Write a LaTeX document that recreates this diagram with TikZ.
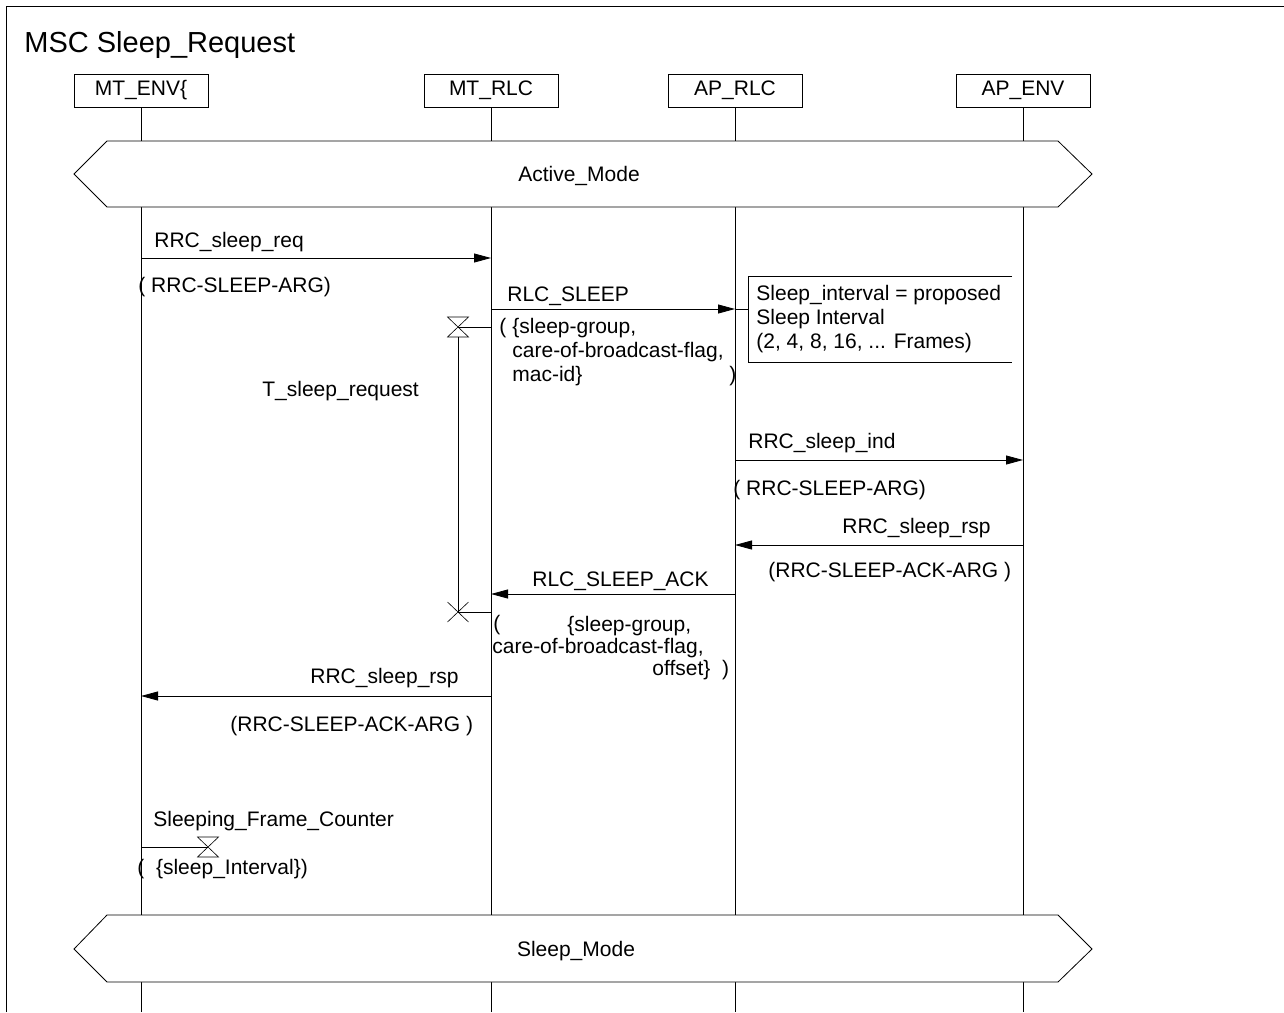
\documentclass[tikz,border=0pt]{standalone}
\usepackage{fontspec}
\setmainfont{Liberation Sans}
\usetikzlibrary{arrows.meta}

\begin{document}
\begin{tikzpicture}[x=1pt, y=-1pt, line width=0.8pt,
  every node/.style={font=\fontsize{21}{24}\selectfont, inner sep=0pt},
  inst/.style={draw, fill=white, minimum width=134pt, minimum height=33pt},
  msg/.style={-{Triangle[length=17pt,width=9pt]}},
  lbl/.style={anchor=base west, align=left},
  sym/.style={line width=0.6pt}]
  \useasboundingbox (0,0) rectangle (1284,1012);

  % frame and title
  \draw (6,1012) -- (6,6) -- (1284,6);
  \node[anchor=base west, font=\fontsize{29}{34}\selectfont] (title) at (24,52) {MSC Sleep\_Request};

  % instances and lifelines
  \node[inst] (mtenv) at (141,90.5) {MT\_ENV\{};
  \node[inst] (mtrlc) at (491,90.5) {MT\_RLC};
  \node[inst] (aprlc) at (735,90.5) {AP\_RLC};
  \node[inst] (apenv) at (1023,90.5) {AP\_ENV};
  \foreach \inst in {mtenv,mtrlc,aprlc,apenv}
    \draw (\inst.south) -- (\inst.south |- 0,1012);

  % condition: active mode
  \draw[fill=white] (74,174) -- (107,141) -- (1058,141) -- (1092,174) -- (1058,207) -- (107,207) -- cycle;
  \node[anchor=base] (active) at (579,181) {Active\_Mode};

  % RRC_sleep_req
  \draw[msg] (mtenv |- 0,258) -- (mtrlc |- 0,258);
  \node[lbl] (req) at (154,247) {RRC\_sleep\_req};
  \node[lbl] (reqarg) at (138,292) {( RRC-SLEEP-ARG)};

  % RLC_SLEEP with comment
  \draw[msg] (mtrlc |- 0,309) -- (aprlc |- 0,309);
  \node[lbl] (sleep) at (507,301) {RLC\_SLEEP};
  \node[lbl] (sleepopen) at (499,333) {(};
  \node[lbl] (sleeppar) at (512,381) {\{sleep-group,\\care-of-broadcast-flag,\\mac-id\}};
  \node[lbl] (sleepclose) at (729,381) {)};
  \coordinate (notein) at (748,309);
  \draw (aprlc |- notein) -- (notein);
  \draw (1012,276) -- (748,276) -- (748,362) -- (1012,362);
  \node[lbl] (note) at (756,348) {Sleep\_interval = proposed\\Sleep Interval\\(2, 4, 8, 16, ... Frames)};

  % timer T_sleep_request
  \coordinate (tset) at (458,327);
  \coordinate (tout) at (458,612);
  \draw (tset) -- (mtrlc |- tset);
  \draw[sym] (tset) ++(-10.5,-10) -- ++(21,0) -- ++(-21,20) -- ++(21,0) -- cycle;
  \draw (tset) ++(0,10) -- (tout);
  \draw (tout) -- (mtrlc |- tout);
  \draw[sym] (tout) ++(-10.5,-10) -- ++(21,20) (tout) ++(10.5,-10) -- ++(-21,20);
  \node[lbl] (tname) at (262,396) {T\_sleep\_request};

  % RRC_sleep_ind
  \draw[msg] (aprlc |- 0,460) -- (apenv |- 0,460);
  \node[lbl] (ind) at (748,448) {RRC\_sleep\_ind};
  \node[lbl] (indarg) at (733,495) {( RRC-SLEEP-ARG)};

  % RRC_sleep_rsp from AP_ENV
  \draw[msg] (apenv |- 0,545) -- (aprlc |- 0,545);
  \node[lbl] (rsp) at (842,533) {RRC\_sleep\_rsp};
  \node[lbl] (rsparg) at (768,577) {(RRC-SLEEP-ACK-ARG )};

  % RLC_SLEEP_ACK
  \draw[msg] (aprlc |- 0,594) -- (mtrlc |- 0,594);
  \node[lbl] (ack) at (532,586) {RLC\_SLEEP\_ACK};
  \node[lbl] (ackopen) at (493,630) {(};
  \node[lbl] (ackpar1) at (567,631) {\{sleep-group,};
  \node[lbl] (ackpar2) at (492,653) {care-of-broadcast-flag,};
  \node[lbl] (ackpar3) at (652,675) {offset\}\ \ )};

  % RRC_sleep_rsp to MT_ENV
  \draw[msg] (mtrlc |- 0,696) -- (mtenv |- 0,696);
  \node[lbl] (rsp2) at (310,683) {RRC\_sleep\_rsp};
  \node[lbl] (rsparg2) at (230,731) {(RRC-SLEEP-ACK-ARG )};

  % timer Sleeping_Frame_Counter
  \coordinate (cset) at (208,847);
  \draw (mtenv |- cset) -- (cset);
  \draw[sym] (cset) ++(-10.5,-10) -- ++(21,0) -- ++(-21,20) -- ++(21,0) -- cycle;
  \node[lbl] (cname) at (153,826) {Sleeping\_Frame\_Counter};
  \node[lbl] (carg) at (137,874) {(\ \ \{sleep\_Interval\})};

  % condition: sleep mode
  \draw[fill=white] (74,949) -- (107,915) -- (1058,915) -- (1092,949) -- (1058,982) -- (107,982) -- cycle;
  \node[anchor=base] (sleepmode) at (576,956) {Sleep\_Mode};
\end{tikzpicture}
\end{document}
